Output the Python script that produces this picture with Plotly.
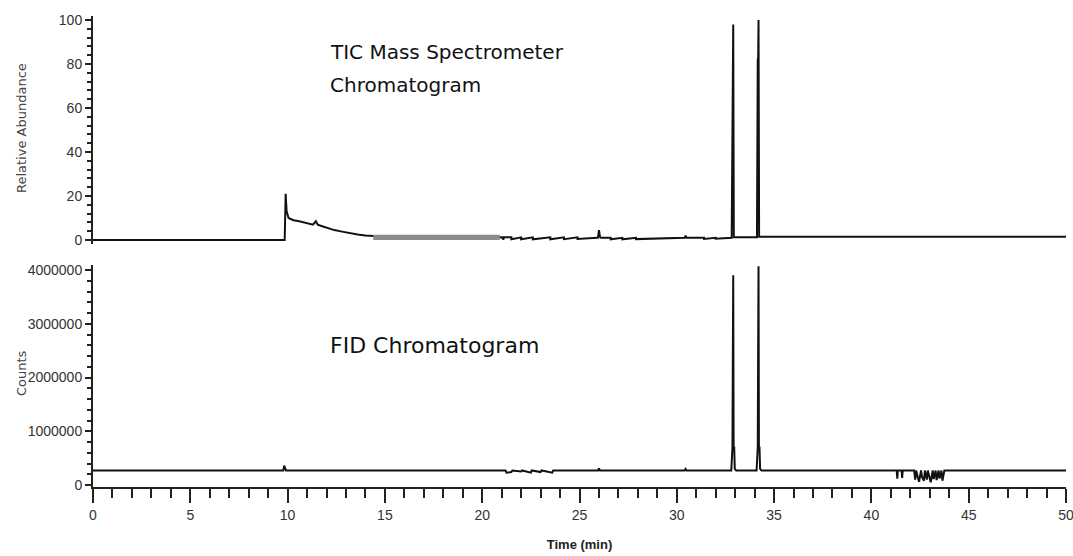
import plotly.graph_objects as go

W, H = 1073, 556

# ---------------- data ----------------
# TIC mass spectrometer chromatogram (relative abundance, %)
tic_time = [0.0, 9.85, 9.9, 9.95, 10.05, 10.3, 10.6, 11.0, 11.3, 11.45, 11.55, 11.7, 12.0, 12.4,
            12.8, 13.2, 13.6, 14.0, 14.4, 14.5, 21.0, 21.1, 21.1, 21.5, 21.5, 22.0, 22.0, 22.6,
            22.6, 23.5, 23.5, 24.2, 24.2, 24.9, 24.9, 25.9, 25.95, 26.0, 26.05, 26.1, 26.6,
            26.6, 27.2, 27.2, 27.9, 27.9, 30.4, 30.45, 30.5, 31.4, 31.4, 32.0, 32.0, 32.82,
            32.86, 32.88, 32.9, 32.93, 34.12, 34.16, 34.18, 34.2, 34.23, 50.0]
tic_value = [0.0, 0.0, 21.0, 13.0, 10.0, 9.0, 8.5, 7.5, 7.0, 8.5, 7.0, 6.5, 5.5, 4.5,
             3.8, 3.0, 2.5, 2.0, 1.8, 1.2, 1.2, 0.2, 1.2, 1.2, 0.3, 1.2, 0.3, 1.2,
             0.3, 1.2, 0.3, 1.2, 0.4, 1.2, 0.5, 1.0, 1.0, 4.5, 1.5, 1.0, 1.0,
             0.3, 1.0, 0.3, 1.0, 0.4, 1.0, 2.0, 1.0, 1.0, 0.5, 1.0, 0.6, 1.0,
             80.0, 80.0, 98.0, 1.2, 1.2, 82.0, 82.0, 100.0, 1.5, 1.5]

# grey noise band in the TIC trace
band_time = [14.4, 20.9]
band_value = [2.4, 2.4]

# FID chromatogram (counts)
fid_time = [0.0, 9.78, 9.82, 9.86, 9.92, 21.2, 21.25, 21.5, 21.55, 22.0, 22.05, 22.5, 22.55,
            23.0, 23.05, 23.6, 23.65, 25.95, 26.0, 26.05, 30.4, 30.45, 30.5, 32.8, 32.83,
            32.86, 32.88, 32.9, 32.92, 32.95, 32.98, 33.05, 34.1, 34.13, 34.16, 34.18, 34.2,
            34.22, 34.25, 34.28, 34.35, 41.3, 41.33, 41.36, 41.55, 41.58, 41.61, 42.0, 42.2,
            42.25, 42.3, 42.4, 42.45, 42.55, 42.6, 42.7, 42.75, 42.85, 42.9, 43.0, 43.05,
            43.15, 43.2, 43.3, 43.35, 43.45, 43.5, 43.6, 43.65, 43.75, 43.8, 50.0]
fid_value = [270000, 270000, 360000, 300000, 270000, 270000, 230000, 240000, 270000, 250000,
             270000, 230000, 270000, 240000, 270000, 230000, 270000, 270000, 310000, 270000,
             270000, 300000, 270000, 270000, 700000, 700000, 2400000, 3900000, 700000,
             700000, 300000, 270000, 270000, 700000, 700000, 2550000, 4070000, 700000,
             700000, 300000, 270000, 270000, 120000, 270000, 270000, 130000, 270000,
             270000, 270000, 100000, 270000, 120000, 60000, 270000, 150000, 80000, 270000,
             100000, 270000, 120000, 50000, 270000, 110000, 270000, 90000, 270000, 120000,
             270000, 80000, 270000, 270000, 270000]

tic_yticks = [0, 20, 40, 60, 80, 100]
fid_yticks = [0, 1000000, 2000000, 3000000, 4000000]
x_ticks = [0, 5, 10, 15, 20, 25, 30, 35, 40, 45, 50]

# ---------------- layout helpers ----------------
def px_x(p):
    return p / W

def px_y(p):
    return 1 - p / H

X0, X1 = 93, 1066
tic_range = [-2, 102]
tic_scale = (240 - 20) / 100.0
tic_dom = [px_y(240 + 2 * tic_scale), px_y(20 - 2 * tic_scale)]
fid_scale = (485 - 270) / 4e6
fid_range = [-40000, 4100000]
fid_dom = [px_y(485 + 40000 * fid_scale), px_y(270 - 100000 * fid_scale)]

tick_font = dict(family="Liberation Sans, Arial, sans-serif", size=14, color="#333333")

fig = go.Figure()
fig.add_trace(go.Scatter(x=tic_time, y=tic_value, mode="lines",
                         line=dict(color="#111111", width=2), xaxis="x", yaxis="y",
                         showlegend=False))
fig.add_trace(go.Scatter(x=band_time + band_time[::-1], y=band_value + [0, 0], fill="toself",
                         fillcolor="#8c8c8c", line=dict(width=0), mode="lines",
                         xaxis="x", yaxis="y", showlegend=False, hoverinfo="skip"))
fig.add_trace(go.Scatter(x=fid_time, y=fid_value, mode="lines",
                         line=dict(color="#111111", width=2), xaxis="x2", yaxis="y2",
                         showlegend=False))

axis_common = dict(showgrid=False, zeroline=False, linecolor="#222222", linewidth=2,
                   tickcolor="#222222", tickwidth=2, tickfont=tick_font, automargin=False)

fig.update_layout(
    width=W, height=H,
    margin=dict(l=0, r=0, t=0, b=0),
    paper_bgcolor="white", plot_bgcolor="white",
    xaxis=dict(domain=[px_x(X0), px_x(X1)], range=[0, 50.0001], visible=False, anchor="y",
               automargin=False),
    yaxis=dict(domain=tic_dom, range=tic_range, anchor="x", showline=True, ticks="outside",
               ticklen=6, tickvals=tic_yticks,
               minor=dict(dtick=4, tick0=0, ticks="outside", ticklen=4, tickcolor="#222222",
                          tickwidth=1.5),
               **axis_common),
    xaxis2=dict(domain=[px_x(X0), px_x(X1)], range=[0, 50.0001], anchor="y2", showline=True,
                ticks="outside", ticklen=14, tickvals=x_ticks, ticklabeloverflow="allow",
                minor=dict(dtick=1, tick0=0, ticks="outside", ticklen=9, tickcolor="#222222",
                           tickwidth=1.5),
                title=dict(text="<b>Time (min)</b>", standoff=18,
                           font=dict(family="Liberation Sans, Arial, sans-serif",
                                     size=13, color="#222222")),
                **axis_common),
    yaxis2=dict(domain=fid_dom, range=fid_range, anchor="x2", showline=True, ticks="outside",
                ticklen=6, tickvals=fid_yticks, tickformat="d",
                minor=dict(dtick=200000, tick0=0, ticks="outside", ticklen=4,
                           tickcolor="#222222", tickwidth=1.5),
                **axis_common),
)

ann_font = dict(family="DejaVu Sans, sans-serif", size=20, color="#111111")
fid_font = dict(family="DejaVu Sans, sans-serif", size=22, color="#111111")
title_font = dict(family="DejaVu Sans, sans-serif", size=13, color="#444444")
fig.add_annotation(x=px_x(328), y=px_y(52), xref="paper", yref="paper", xanchor="left",
                   yanchor="middle", showarrow=False, font=ann_font,
                   text="TIC Mass Spectrometer")
fig.add_annotation(x=px_x(328), y=px_y(85), xref="paper", yref="paper", xanchor="left",
                   yanchor="middle", showarrow=False, font=ann_font,
                   text="Chromatogram")
fig.add_annotation(x=px_x(328), y=px_y(345), xref="paper", yref="paper", xanchor="left",
                   yanchor="middle", showarrow=False, font=fid_font,
                   text="FID Chromatogram")
fig.add_annotation(x=px_x(21), y=px_y(128), xref="paper", yref="paper", textangle=-90,
                   xanchor="center", yanchor="middle",
                   showarrow=False, font=title_font, text="Relative Abundance")
fig.add_annotation(x=px_x(21), y=px_y(373), xref="paper", yref="paper", textangle=-90,
                   xanchor="center", yanchor="middle",
                   showarrow=False, font=title_font, text="Counts")

fig.write_html("out.html")
